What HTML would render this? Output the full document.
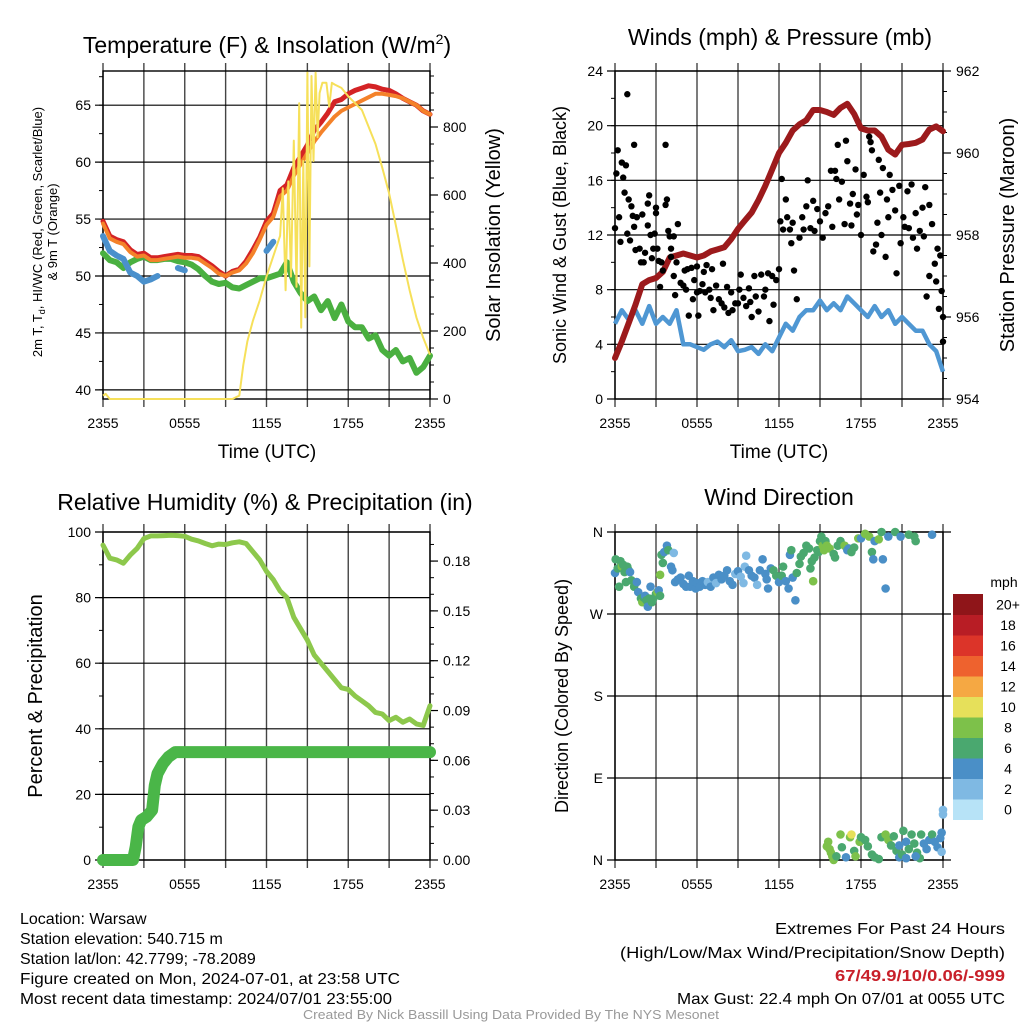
<!DOCTYPE html>
<html><head><meta charset="utf-8"><style>
html,body{margin:0;padding:0;background:#fff;}
svg{display:block;font-family:"Liberation Sans",sans-serif;}
</style></head><body>
<svg id="chart" width="1024" height="1024" viewBox="0 0 1024 1024" xmlns="http://www.w3.org/2000/svg">
<rect width="1024" height="1024" fill="#fff"/>
<g id="p1"></g>
<g id="p2"></g>
<g id="p3"></g>
<g id="p4"></g>
<g font-size="23" text-anchor="middle" fill="#000">
<text x="267" y="53">Temperature (F) &amp; Insolation (W/m<tspan dy="-9" font-size="14">2</tspan><tspan dy="9">)</tspan></text>
<text x="780" y="45">Winds (mph) &amp; Pressure (mb)</text>
<text x="265" y="510">Relative Humidity (%) &amp; Precipitation (in)</text>
<text x="779" y="505">Wind Direction</text>
</g>
<g fill="#000" text-anchor="middle">
<text x="267" y="458" font-size="19">Time (UTC)</text>
<text x="779" y="458" font-size="19">Time (UTC)</text>
<text transform="translate(42,232) rotate(-90)" font-size="13">2m T, T<tspan font-size="9" dy="3">d</tspan><tspan dy="-3">, HI/WC (Red, Green, Scarlet/Blue)</tspan></text>
<text transform="translate(57,232) rotate(-90)" font-size="13">&amp; 9m T (Orange)</text>
<text transform="translate(500,235) rotate(-90)" font-size="20">Solar Insolation (Yellow)</text>
<text transform="translate(566,235) rotate(-90)" font-size="18">Sonic Wind &amp; Gust (Blue, Black)</text>
<text transform="translate(1014,235) rotate(-90)" font-size="20">Station Pressure (Maroon)</text>
<text transform="translate(42,696) rotate(-90)" font-size="20">Percent &amp; Precipitation</text>
<text transform="translate(568,696) rotate(-90)" font-size="18">Direction (Colored By Speed)</text>
</g>
<g font-family="'Liberation Sans Narrow','Liberation Sans',sans-serif" font-size="16" fill="#000">
<text x="20" y="924">Location: Warsaw</text>
<text x="20" y="944">Station elevation: 540.715 m</text>
<text x="20" y="964">Station lat/lon: 42.7799; -78.2089</text>
<text x="20" y="984" textLength="380" lengthAdjust="spacingAndGlyphs">Figure created on Mon, 2024-07-01, at 23:58 UTC</text>
<text x="20" y="1004" textLength="372" lengthAdjust="spacingAndGlyphs">Most recent data timestamp: 2024/07/01 23:55:00</text>
</g>
<g font-family="'Liberation Sans Narrow','Liberation Sans',sans-serif" font-size="16" text-anchor="end" fill="#000">
<text x="1005" y="934" textLength="230" lengthAdjust="spacingAndGlyphs">Extremes For Past 24 Hours</text>
<text x="1005" y="958" textLength="385" lengthAdjust="spacingAndGlyphs">(High/Low/Max Wind/Precipitation/Snow Depth)</text>
<text x="1005" y="981" fill="#c8202a" font-weight="bold" textLength="170" lengthAdjust="spacingAndGlyphs">67/49.9/10/0.06/-999</text>
<text x="1005" y="1004" textLength="328" lengthAdjust="spacingAndGlyphs">Max Gust: 22.4 mph On 07/01 at 0055 UTC</text>
</g>
<text x="511" y="1019" font-size="13" fill="#999" text-anchor="middle" textLength="416" lengthAdjust="spacingAndGlyphs">Created By Nick Bassill Using Data Provided By The NYS Mesonet</text>
</svg>
<script>
// ---------- data ----------
const tHalf = [0,0.5,1,1.5,2,2.5,3,3.5,4,4.5,5,5.5,6,6.5,7,7.5,8,8.5,9,9.5,10,10.5,11,11.5,12,12.5,13,13.5,14,14.5,15,15.5,16,16.5,17,17.5,18,18.5,19,19.5,20,20.5,21,21.5,22,22.5,23,23.5,24];
const tempRed = [54.8,53.5,53.2,53.0,52.3,51.9,52.0,51.6,51.6,51.7,51.8,51.9,51.8,51.8,51.7,51.3,50.9,50.4,50.0,50.4,50.6,51.3,52.3,53.4,54.8,55.5,57.5,58.0,59.5,60.5,61.5,62.8,63.5,64.3,65.3,65.5,66.0,66.3,66.5,66.7,66.6,66.4,66.3,66.0,65.6,65.3,65.0,64.5,64.2];
const tempOrange = [54.6,53.3,53.0,52.8,52.1,51.7,51.8,51.4,51.4,51.5,51.6,51.7,51.6,51.6,51.5,51.1,50.7,50.2,50.0,50.3,50.5,51.1,52.0,53.2,54.5,55.2,57.0,57.5,58.8,59.8,60.8,61.8,62.6,63.3,64.0,64.5,64.8,65.1,65.4,65.7,66.0,66.0,65.9,65.8,65.6,65.3,65.0,64.5,64.2];
const dewGreen = [52.0,51.4,51.2,50.7,51.2,51.5,51.7,51.4,51.4,51.5,51.5,51.3,51.2,51.0,50.6,50.0,49.5,49.3,49.4,49.0,48.9,49.2,49.5,49.8,49.8,50.0,50.2,51.2,49.5,48.5,47.8,48.2,47.0,47.8,46.3,47.5,46.0,45.5,45.5,44.5,44.8,43.5,43.0,43.5,42.5,42.8,41.5,42.0,43.0];
const hiwcBlue = [53.5,52.2,51.8,51.5,50.3,50.0,49.5,49.7,50.0,null,null,50.7,50.5,null,null,null,null,null,null,null,null,null,null,null,52.2,53.0,null,56.5,null,null,null,null,null,null,null,null,null,null,null,null,null,null,null,null,null,null,null,null,null];
const solarTimes = [0,0.2,0.5,9.5,10.0,10.3,10.6,11,11.5,12,12.5,13,13.2,13.4,13.6,13.8,14.0,14.2,14.4,14.55,14.7,14.85,15.0,15.15,15.3,15.45,15.6,15.75,15.9,16.1,16.4,16.6,16.8,17.0,17.5,18,18.5,19,19.5,20,20.5,21,21.5,22,22.5,23,23.5,24];
const solarVals = [10,15,0,0,10,100,170,230,290,360,420,480,620,320,640,360,760,330,870,210,700,240,960,390,950,700,960,770,900,930,930,860,930,925,915,890,870,850,800,750,680,605,510,410,320,240,180,130];
const windSonic = [5.5,6.5,5.8,6.5,5.5,6.8,5.5,6.0,5.5,6.5,4.0,4.0,3.8,3.6,4.0,4.2,3.8,4.3,3.5,3.6,3.8,3.3,4.0,3.5,4.5,5.5,5.0,6.0,6.5,6.5,7.2,6.5,7.0,6.5,7.5,7.0,6.5,6.0,6.8,6.0,6.5,5.5,6.0,5.5,5.0,5.0,4.0,3.5,2.0];
const pressure = [955.0,955.4,955.85,956.3,956.8,956.9,956.95,957.1,957.45,957.5,957.55,957.5,957.45,957.5,957.6,957.65,957.7,957.9,958.15,958.35,958.55,958.85,959.2,959.6,960.0,960.25,960.55,960.7,960.8,961.05,961.05,961.0,960.93,961.1,961.2,960.95,960.6,960.55,960.55,960.4,960.08,959.96,960.2,960.22,960.25,960.33,960.57,960.65,960.53];
const gustT = [0,0.1,0.2,0.3,0.4,0.5,0.6,0.7,0.8,0.9,0.9,1.0,1.1,1.2,1.3,1.4,1.4,1.5,1.6,1.8,1.9,2.0,2.1,2.2,2.4,2.4,2.5,2.6,2.7,2.8,2.9,3.0,3.0,3.1,3.2,3.3,3.4,3.5,3.7,3.7,3.8,3.9,4.0,4.1,4.1,4.3,4.3,4.4,4.5,4.6,4.8,5.0,5.1,5.2,5.3,5.4,5.6,5.7,5.8,6.0,6.0,6.1,6.2,6.4,6.5,6.6,6.7,6.9,7.0,7.1,7.2,7.4,7.6,7.8,7.9,8.0,8.2,8.3,8.5,8.6,8.8,9.0,9.1,9.2,9.4,9.6,9.8,9.9,10.0,10.2,10.3,10.5,10.7,10.9,11.0,11.2,11.3,11.5,11.6,11.8,12.0,12.1,12.2,12.3,12.5,12.6,12.8,12.9,13.0,13.1,13.3,13.5,13.7,13.8,14.0,14.1,14.3,14.5,14.6,14.8,15.0,15.2,15.4,15.6,15.8,15.9,16.1,16.2,16.3,16.4,16.6,16.8,16.9,17.0,17.2,17.3,17.4,17.6,17.7,17.8,18.0,18.2,18.4,18.5,18.6,18.7,18.8,18.9,19.1,19.2,19.3,19.4,19.5,19.6,19.8,19.9,20.0,20.1,20.3,20.5,20.6,20.8,20.9,21.1,21.2,21.4,21.5,21.7,21.8,22.0,22.1,22.3,22.5,22.6,22.7,22.8,23.0,23.0,23.2,23.4,23.5,23.6,23.8,24.0,23.7,23.9,24.0];
const gustV = [12.5,16.5,18.2,13.3,11.5,17.3,16.2,15.1,17.1,12.1,22.3,14.6,11.6,14.1,13.4,18.6,12.6,10.9,13.3,11.0,10.0,13.5,10.0,10.7,12.7,14.3,14.9,12.0,10.3,11.0,12.1,13.6,14.0,11.0,10.1,8.2,10.0,9.4,14.2,18.6,14.6,12.3,11.9,11.0,10.4,9.0,11.9,7.6,10.0,12.8,8.5,8.3,9.4,8.0,9.5,6.1,9.6,7.3,8.7,7.8,9.7,6.1,7.9,8.4,9.3,7.8,9.8,8.0,7.4,9.5,6.5,8.3,7.3,7.0,9.9,6.7,8.2,6.3,7.8,6.5,7.0,7.0,8.0,9.1,7.4,6.8,8.1,7.1,6.0,9.0,7.5,6.4,9.1,7.5,8.0,9.2,5.7,9.0,6.9,8.7,9.5,13.0,16.1,12.4,14.6,13.3,12.4,11.4,12.9,9.4,7.3,11.8,13.3,12.4,14.1,16.0,12.5,14.5,12.3,13.9,13.0,11.8,13.6,14.1,16.7,12.6,16.7,16.1,18.6,14.6,15.9,12.8,18.9,17.4,14.3,12.7,15.0,16.8,13.5,14.2,12.0,16.4,14.8,14.4,19.2,18.8,18.2,10.8,11.3,12.9,17.5,15.1,12.0,16.9,10.4,14.6,13.3,16.4,15.3,13.8,9.2,15.6,11.4,13.3,12.6,15.2,12.5,15.7,11.8,13.6,11.0,12.3,14.0,11.9,15.5,7.5,14.2,9.0,12.8,9.9,8.6,11.0,10.5,6.0,6.6,7.9,4.2];
const rh = [96,92,91.5,90.5,93,95,98,98.8,98.8,98.9,99,98.9,98.7,97.8,97.3,96.5,95.8,96.3,96.2,96.7,97.0,96.5,94,91.5,88,85.5,82,80,74,70.5,67,62.5,60,57.5,55,52.5,52,50,48.5,47,45,44.5,42.5,43.5,42,43,41.5,41,47];
const precipTimes = [0,2.2,2.4,2.6,2.8,3.2,3.6,3.8,4.0,4.4,4.8,5.3,24];
const precipVals = [0,0,0.008,0.02,0.024,0.026,0.03,0.045,0.052,0.058,0.062,0.065,0.065];
const dirT = [0,0.05,0.2,0.3,0.4,0.5,0.6,0.7,0.8,0.9,1.0,1.1,1.2,1.4,1.6,1.7,1.9,2.0,2.1,2.2,2.3,2.4,2.5,2.6,2.7,2.8,3.0,3.1,3.2,3.3,3.3,3.4,3.5,3.6,3.8,3.9,4.1,4.2,4.3,4.4,4.6,4.8,5.0,5.2,5.4,5.5,5.7,5.9,6.0,6.2,6.4,6.6,6.8,7.0,7.2,7.4,7.6,7.8,8.0,8.2,8.4,8.6,8.8,9.0,9.2,9.4,9.5,9.6,9.8,10.0,10.2,10.4,10.6,10.8,11.0,11.1,11.2,11.4,11.6,11.8,12.0,12.2,12.3,12.5,12.7,12.8,12.9,13.0,13.2,13.3,13.5,13.6,13.8,14.0,14.2,14.3,14.4,14.5,14.6,14.8,14.9,15.0,15.1,15.2,15.3,15.4,15.5,15.7,16.0,16.1,16.3,16.5,16.8,17.0,17.1,17.3,17.5,17.8,18.0,18.3,18.6,18.8,18.9,19.0,19.3,19.5,19.6,19.8,20.0,20.5,20.9,21.5,21.9,22.0,23.2,
15.5,15.6,15.7,15.8,15.9,16.0,16.2,16.5,16.6,16.9,17.2,17.3,17.5,17.6,17.9,18.0,18.3,18.5,18.8,19.0,19.3,19.5,19.8,20.0,20.2,20.4,20.6,20.8,21.0,21.1,21.3,21.5,21.7,21.9,22.1,22.3,22.4,22.6,22.8,23.0,23.2,23.4,23.6,23.8,23.9,24.0,24.0,23.9,22.0,21.3,20.8];
const dirDeg = [315,330,320,300,328,322,324,316,305,322,318,316,307,300,305,294,287,283,288,290,285,278,287,300,283,287,292,294,296,290,313,335,326,338,345,340,322,318,337,305,308,310,303,300,312,300,306,298,304,300,306,302,305,300,310,304,313,308,312,318,306,302,314,317,311,304,322,334,318,312,310,302,318,330,314,308,298,320,318,312,305,312,322,306,298,335,340,310,285,315,325,333,337,345,342,320,328,306,332,340,338,350,355,345,340,350,345,342,336,332,345,350,345,340,342,338,343,353,353,358,355,338,330,350,352,360,330,298,355,360,355,357,355,350,357,
15,20,12,8,4,0,4,28,14,3,25,28,10,4,20,25,22,15,6,3,1,25,28,22,16,26,10,3,6,32,20,12,28,18,8,2,28,18,12,22,28,20,14,24,30,50,55,9,4,2,16];
const dirSpd = [5,6,6,6,6,8,6,6,6,6,6,4,6,6,4,4,6,8,6,4,6,4,6,4,6,6,6,8,4,6,8,6,6,4,4,6,4,4,2,4,4,4,4,4,4,4,4,4,4,4,4,4,2,4,4,2,4,4,4,4,4,4,2,4,2,2,2,2,4,4,4,2,4,4,4,4,4,4,6,6,4,6,6,4,4,4,6,4,4,6,6,6,6,6,6,6,6,8,6,6,6,6,6,8,8,6,8,8,6,6,6,6,8,4,4,6,6,8,4,8,8,6,4,4,8,6,4,4,4,6,4,6,6,6,4,
8,8,8,8,8,8,6,8,6,4,8,10,6,8,8,6,6,6,6,6,6,6,8,8,6,6,6,4,6,6,4,6,6,6,6,6,6,4,4,4,6,4,4,4,4,2,2,2,4,4,4];
const speedColors = ["#b7e3f7","#7fb9e3","#4a8fc7","#4aa86f","#7dc14a","#e6e05a","#f5a843","#ee622e","#dc3429","#b81d25","#8f1519"];
const speedLabels = ["0","2","4","6","8","10","12","14","16","18","20+"];
const xTickLabels = ["2355","0555","1155","1755","2355"];

// ---------- helpers ----------
const NS = "http://www.w3.org/2000/svg";
function mk(parent, tag, attrs, text){
  const e = document.createElementNS(NS, tag);
  for (const k in attrs) e.setAttribute(k, attrs[k]);
  if (text !== undefined) e.textContent = text;
  parent.appendChild(e);
  return e;
}
function scale(d0,d1,r0,r1){ return v => r0 + (v-d0)/(d1-d0)*(r1-r0); }

function frame(g, P, opts){
  const X = scale(0,24,P.x0,P.x1);
  for (let h=0; h<=24; h+=3){
    const l = mk(g,"line",{x1:X(h),x2:X(h),y1:P.y0-8,y2:P.y1+8,stroke:"#444","stroke-width":1.4});
    
    
  }
  xTickLabels.forEach((lab,i)=>{
    const t = mk(g,"text",{x:X(i*6),y:P.y1+29,"font-size":14,"text-anchor":"middle"},lab);
    
    
  });
  const YL = scale(opts.l0,opts.l1,P.y1,P.y0);
  for (let v=opts.lmStart; v<=opts.l1+1e-9; v+=opts.lminor){
    if (v < opts.l0-1e-9) continue;
    mk(g,"line",{x1:P.x0-4,x2:P.x0,y1:YL(v),y2:YL(v),stroke:"#000","stroke-width":1});
  }
  opts.lticks.forEach((v,i)=>{
    const l = mk(g,"line",{x1:P.x0-8,x2:P.x1+(opts.gridExt||0),y1:YL(v),y2:YL(v),stroke:"#000","stroke-width":1.2});
    
    
    const t = mk(g,"text",{x:P.x0-12,y:YL(v)+5,"font-size":14,"text-anchor":"end"},opts.llabels[i]);
    
    
  });
  if (opts.rticks){
    const YR = scale(opts.r0,opts.r1,P.y1,P.y0);
    for (let v=opts.rmStart; v<=opts.r1+1e-9; v+=opts.rminor){
      mk(g,"line",{x1:P.x1,x2:P.x1+4,y1:YR(v),y2:YR(v),stroke:"#000","stroke-width":1});
    }
    opts.rticks.forEach((v,i)=>{
      mk(g,"line",{x1:P.x1,x2:P.x1+8,y1:YR(v),y2:YR(v),stroke:"#000","stroke-width":1.2});
      const t = mk(g,"text",{x:P.x1+13,y:YR(v)+5,"font-size":14},opts.rlabels[i]);
      
      
    });
  }
  const b = mk(g,"rect",{x:P.x0,y:P.y0,width:P.x1-P.x0,height:P.y1-P.y0,fill:"none",stroke:"#000","stroke-width":1.4});
  
  
  return X;
}
function linePath(ts, vs, X, Y){
  let d = "", pen = false;
  ts.forEach((t,i)=>{
    const v = vs[i];
    if (v === null || v === undefined){ pen = false; return; }
    d += (pen ? "L" : "M") + X(t).toFixed(1) + "," + Y(v).toFixed(1);
    pen = true;
  });
  return d;
}

// ---------- panel 1 ----------
(function(){
  const g = document.getElementById("p1");
  const P = {x0:103,x1:430,y0:71,y1:399};
  const X = frame(g,P,{l0:39.2,l1:68,lticks:[40,45,50,55,60,65],llabels:["40","45","50","55","60","65"],lminor:2.5,lmStart:40,
    r0:0,r1:964.7,rticks:[0,200,400,600,800],rlabels:["0","200","400","600","800"],rminor:50,rmStart:0});
  const Y = scale(39.2,68,P.y1,P.y0);
  const YS = scale(0,964.7,P.y1,P.y0);
  const series = [
    [dewGreen,"#4ab040","dewpoint-line",6],
    [hiwcBlue,"#4a90cc","heat-index-line",6],
    [tempRed,"#d42325","temperature-line",5],
    [tempOrange,"#f4822a","temp-9m-line",4]
  ];
  series.forEach(s=>{
    const p = mk(g,"path",{d:linePath(tHalf,s[0],X,Y),fill:"none",stroke:s[1],"stroke-width":s[3],"stroke-linejoin":"round","stroke-linecap":"round"});
    
    
  });
  const sp = mk(g,"path",{d:linePath(solarTimes,solarVals,X,YS),fill:"none",stroke:"#f6e05a","stroke-width":2,"stroke-linejoin":"round"});
  
  
})();

// ---------- panel 2 ----------
(function(){
  const g = document.getElementById("p2");
  const P = {x0:615,x1:943,y0:71,y1:399};
  const X = frame(g,P,{l0:0,l1:24,lticks:[0,4,8,12,16,20,24],llabels:["0","4","8","12","16","20","24"],lminor:2,lmStart:0,
    r0:954,r1:962,rticks:[954,956,958,960,962],rlabels:["954","956","958","960","962"],rminor:0.5,rmStart:954});
  const Y = scale(0,24,P.y1,P.y0);
  const YP = scale(954,962,P.y1,P.y0);
  const w = mk(g,"path",{d:linePath(tHalf,windSonic,X,Y),fill:"none",stroke:"#4f97d3","stroke-width":4.5,"stroke-linejoin":"round"});
  
  
  const pr = mk(g,"path",{d:linePath(tHalf,pressure,X,YP),fill:"none",stroke:"#9c1a1c","stroke-width":6,"stroke-linejoin":"round","stroke-linecap":"round"});
  
  
  gustT.forEach((t,i)=>{
    const c = mk(g,"circle",{cx:X(t),cy:Y(gustV[i]),r:3.2,fill:"#000"});
    
    
  });
})();

// ---------- panel 3 ----------
(function(){
  const g = document.getElementById("p3");
  const P = {x0:103,x1:430,y0:532,y1:860};
  const X = frame(g,P,{l0:0,l1:100,lticks:[0,20,40,60,80,100],llabels:["0","20","40","60","80","100"],lminor:10,lmStart:0,
    r0:0,r1:0.1975,rticks:[0,0.03,0.06,0.09,0.12,0.15,0.18],rlabels:["0.00","0.03","0.06","0.09","0.12","0.15","0.18"],rminor:0.01,rmStart:0});
  const Y = scale(0,100,P.y1,P.y0);
  const YR = scale(0,0.1975,P.y1,P.y0);
  const r = mk(g,"path",{d:linePath(tHalf,rh,X,Y),fill:"none",stroke:"#8dc84c","stroke-width":5,"stroke-linejoin":"round","stroke-linecap":"round"});
  
  
  const p = mk(g,"path",{d:linePath(precipTimes,precipVals,X,YR),fill:"none",stroke:"#4ab648","stroke-width":12,"stroke-linejoin":"round","stroke-linecap":"round"});
  
  
})();

// ---------- panel 4 ----------
(function(){
  const g = document.getElementById("p4");
  const P = {x0:615,x1:943,y0:532,y1:860};
  const X = frame(g,P,{l0:0,l1:360,lticks:[0,90,180,270,360],llabels:["N","E","S","W","N"],lminor:1000,lmStart:0,gridExt:8});
  const Y = scale(0,360,P.y1,P.y0);
  dirT.forEach((t,i)=>{
    const bin = Math.min(10, Math.floor(dirSpd[i]/2));
    const c = mk(g,"circle",{cx:X(t),cy:Y(dirDeg[i]),r:4.3,fill:speedColors[bin]});
    
    
  });
  const cb = mk(g,"g",{});
  
  
  const top = 594, h = 20.5;
  mk(cb,"text",{x:1004,y:587,"font-size":14,"text-anchor":"middle"},"mph");
  speedColors.forEach((col,i)=>{
    const y = top + (10-i)*h;
    const r = mk(cb,"rect",{x:953,y:y,width:30,height:h+0.5,fill:col});
    
    
    const t = mk(cb,"text",{x:1008,y:y+h/2+5,"font-size":14,"text-anchor":"middle"},speedLabels[i]);
    
    
  });
})();
</script>
</body></html>
